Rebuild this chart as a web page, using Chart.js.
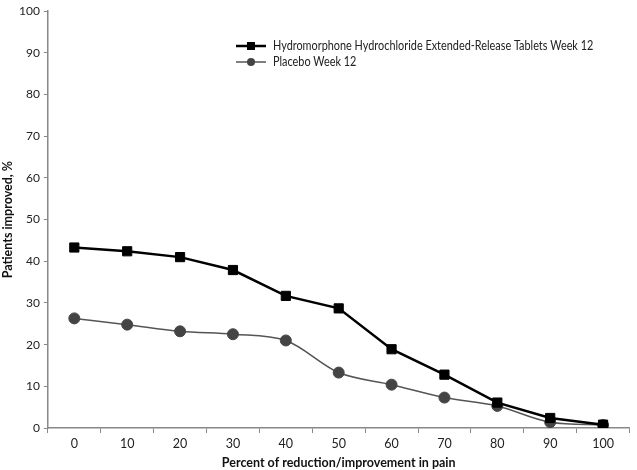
<!DOCTYPE html>
<html>
<head>
<meta charset="utf-8">
<script src="https://cdn.jsdelivr.net/npm/chart.js@4/dist/chart.umd.min.js"></script>
<style>
  html, body { margin: 0; padding: 0; background: #fff; }
  #wrap { width: 637px; height: 470px; position: relative; }
</style>
</head>
<body>
<div id="wrap"><canvas id="chart"></canvas></div>
<script>
// data
const categories = ['0', '10', '20', '30', '40', '50', '60', '70', '80', '90', '100'];
const hydroValues = [43.3, 42.4, 41.0, 37.9, 31.7, 28.7, 18.9, 12.8, 6.1, 2.4, 0.8];
const placeboValues = [26.3, 24.8, 23.2, 22.5, 21.0, 13.3, 10.4, 7.3, 5.3, 1.4, 0.7];
const seriesLabels = ['Hydromorphone Hydrochloride Extended-Release Tablets Week 12', 'Placebo Week 12'];

const fontFamily = "Lato, 'Liberation Sans', sans-serif";

// legend drawn on the canvas so it can sit inside the plot
const legendPlugin = {
  id: 'insideLegend',
  afterDraw(chart) {
    const ctx = chart.ctx;
    const x0 = 236, y0 = 46, rowH = 16;
    ctx.save();
    chart.data.datasets.forEach(function(ds, i) {
      const y = y0 + i * rowH;
      ctx.strokeStyle = ds.borderColor;
      ctx.lineWidth = ds.borderWidth;
      ctx.beginPath();
      ctx.moveTo(x0, y);
      ctx.lineTo(x0 + 30, y);
      ctx.stroke();
      ctx.fillStyle = ds.pointBackgroundColor;
      if (ds.pointStyle === 'rect') {
        ctx.fillRect(x0 + 11, y - 4, 8, 8);
      } else {
        ctx.beginPath();
        ctx.arc(x0 + 15, y, 4, 0, Math.PI * 2);
        ctx.fill();
      }
      // the original face is narrower, so squeeze the text a little
      ctx.save();
      ctx.translate(x0 + 37, y);
      ctx.scale(0.87, 1);
      ctx.fillStyle = '#222';
      ctx.font = '12.5px ' + fontFamily;
      ctx.textBaseline = 'middle';
      ctx.fillText(ds.label, 0, 0);
      ctx.restore();
    });
    ctx.restore();
  }
};

const ctx = document.getElementById('chart').getContext('2d');
new Chart(ctx, {
  type: 'line',
  data: {
    labels: categories,
    datasets: [
      {
        label: seriesLabels[0],
        data: hydroValues,
        borderColor: '#000',
        borderWidth: 2.5,
        pointStyle: 'rect',
        pointRadius: 6.5,
        pointBackgroundColor: '#000',
        pointBorderColor: '#000',
        pointBorderWidth: 1,
        tension: 0
      },
      {
        label: seriesLabels[1],
        data: placeboValues,
        borderColor: '#555',
        borderWidth: 1.5,
        pointStyle: 'circle',
        pointRadius: 5.5,
        pointBackgroundColor: '#444',
        pointBorderColor: '#444',
        pointBorderWidth: 1,
        cubicInterpolationMode: 'monotone'
      }
    ]
  },
  options: {
    responsive: true,
    maintainAspectRatio: false,
    animation: false,
    layout: { padding: { top: -3, right: 2, left: 0, bottom: 0 } },
    plugins: {
      legend: { display: false },
      tooltip: { enabled: false }
    },
    scales: {
      x: {
        offset: true,
        grid: { offset: true, drawOnChartArea: false, drawTicks: true, tickLength: 5, color: '#888' },
        border: { color: '#888', width: 1.5 },
        ticks: { color: '#222', font: { family: fontFamily, size: 12.5 }, padding: 3 },
        title: {
          display: true,
          text: 'Percent of reduction/improvement in pain',
          color: '#111',
          font: { family: fontFamily, size: 12.5, weight: 'bold' },
          padding: { top: 1, bottom: 0 }
        }
      },
      y: {
        min: 0,
        max: 100,
        ticks: { stepSize: 10, color: '#222', font: { family: fontFamily, size: 12 }, padding: 4 },
        grid: { drawOnChartArea: false, drawTicks: true, tickLength: 4, color: '#888' },
        border: { color: '#888', width: 1.5 },
        title: {
          display: true,
          text: 'Patients improved, %',
          color: '#111',
          font: { family: fontFamily, size: 12.5, weight: 'bold' },
          padding: { top: 0, bottom: 0 }
        }
      }
    }
  },
  plugins: [legendPlugin]
});
</script>
</body>
</html>
